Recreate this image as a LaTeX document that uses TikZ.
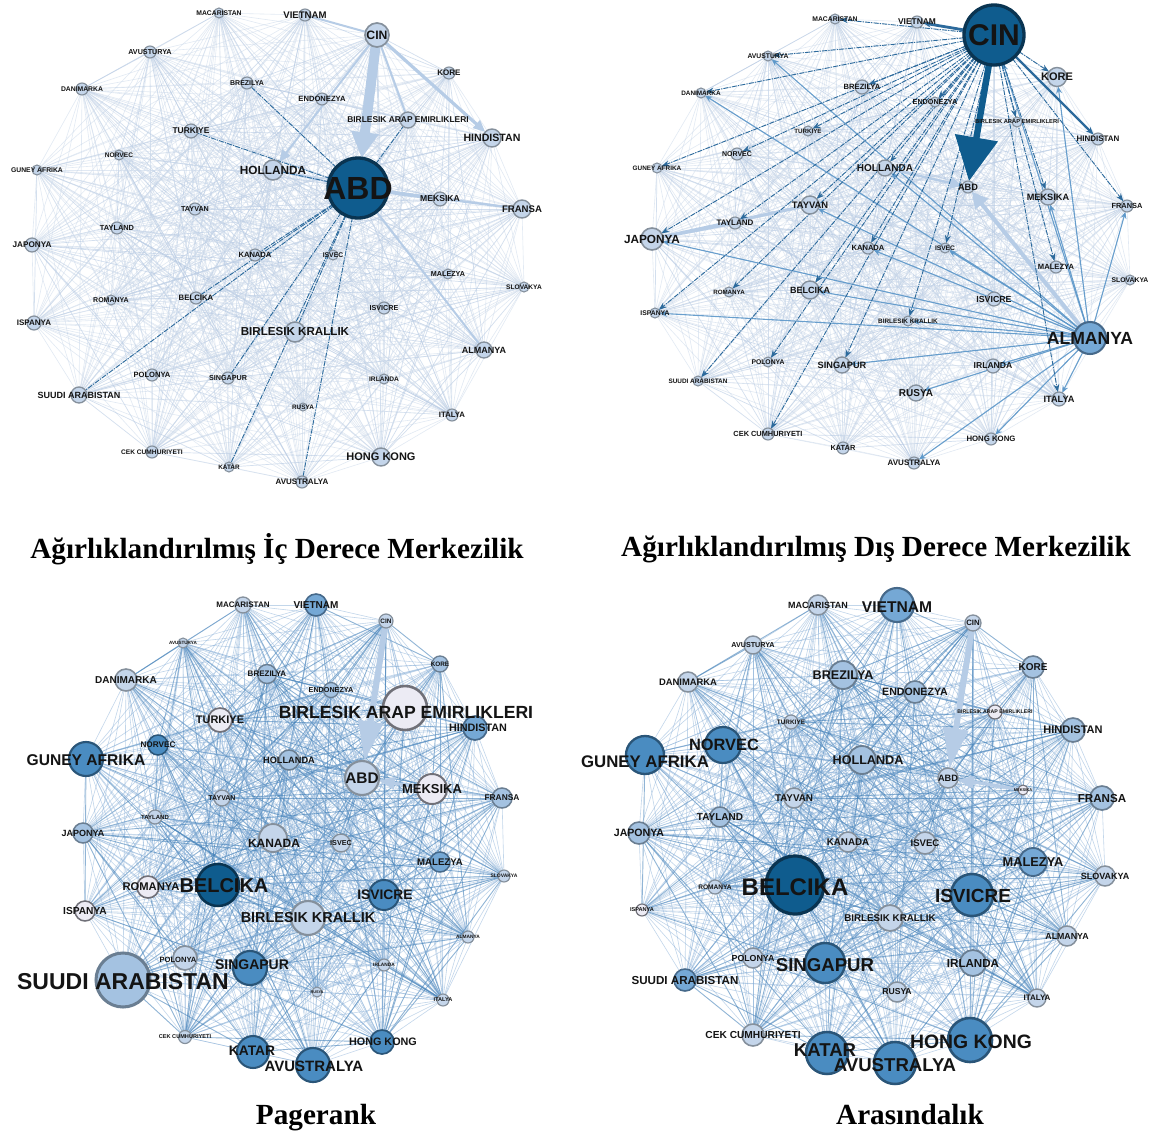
\documentclass[tikz,border=0pt]{standalone}
\usepackage{fontspec}
\setmainfont{Liberation Serif}
\setsansfont{Liberation Sans}
\usetikzlibrary{arrows.meta,backgrounds}
\definecolor{f0}{HTML}{ECEBF4}\definecolor{b0}{HTML}{707078}
\definecolor{f1}{HTML}{C4D5EA}\definecolor{b1}{HTML}{85909C}
\definecolor{f2}{HTML}{A4C2E1}\definecolor{b2}{HTML}{6A7E92}
\definecolor{f3}{HTML}{75A8D5}\definecolor{b3}{HTML}{46698A}
\definecolor{f4}{HTML}{4A8CC1}\definecolor{b4}{HTML}{2A5578}
\definecolor{f5}{HTML}{0F5C8E}\definecolor{b5}{HTML}{0A3451}
\definecolor{meshA}{HTML}{CAD8EA}
\definecolor{meshAd}{HTML}{B7CAE3}
\definecolor{meshB}{HTML}{86AED7}
\definecolor{meshBd}{HTML}{4683BA}
\definecolor{bandc}{HTML}{B6CCE6}
\definecolor{dkc}{HTML}{2C6A9C}
\definecolor{alc}{HTML}{5C97C9}
\tikzset{
  ctry/.style={circle, inner sep=0pt, outer sep=0pt},
  lbl/.style={inner sep=0pt, text=black!92},
  captxt/.style={font=\fontsize{14.6}{17}\selectfont\bfseries, inner sep=0pt, anchor=base},
  meshlo/.style={draw=meshA, line width=0.3pt, draw opacity=0.55},
  meshlod/.style={draw=meshAd, line width=0.35pt, draw opacity=0.6},
  meshhi/.style={draw=meshB, line width=0.3pt, draw opacity=0.5},
  meshhid/.style={draw=meshBd, line width=0.45pt, draw opacity=0.6},
  bandedge/.style={draw=bandc, fill=bandc},
  dkline/.style={draw=dkc, line width=0.45pt, dash pattern=on 2.5pt off 0.6pt on 0.6pt off 0.6pt},
  dkarrow/.style={dkline, -{Stealth[length=4pt,width=3pt]}},
  alarrow/.style={draw=alc, line width=0.55pt, draw opacity=0.9, -{Stealth[length=3.5pt,width=3pt]}},
  x=0.5pt, y=-0.5pt
}
\def\keylist{mac,vie,cin,kor,avt,bre,end,dan,bae,hin,tur,nor,hol,gun,abd,mek,fra,tyv,tyl,jap,kan,isc,mal,slo,rom,bel,isv,isp,bk,alm,pol,sin,irl,sua,rus,ita,cek,kat,hk,avs}
\newcommand\mknodes[2]{%
  \foreach \k/\x/\y/\rr/\cl/\fs/\dx/\dy/\nm in {#2}{%
    \pgfmathsetmacro\lw{0.3+0.045*\rr}%
    \node[ctry, minimum size=\rr pt, fill=f\cl, draw=b\cl, line width=\lw pt] (#1-\k) at (\x,\y) {};
  }%
  \foreach \k/\x/\y/\rr/\cl/\fs/\dx/\dy/\nm in {#2}{%
    \node[lbl, font=\sffamily\bfseries\fontsize{\fs}{\fs}\selectfont] (#1-\k-t) at (\x+\dx,\y+\dy) {\nm};
  }%
}
\newcommand\mkmesh[3]{%
  \foreach \a [count=\i] in \keylist {%
    \foreach \b [count=\j] in \keylist {%
      \ifnum\j>\i
        \edef\hv{\the\numexpr \i*\j*\j + \i*\i + 5*\j\relax}%
        \ifnum\numexpr \hv - 7*((\hv-3)/7)\relax<1
          \draw[#3] (#1-\a) -- (#1-\b);
        \else
          \draw[#2] (#1-\a) -- (#1-\b);
        \fi
      \fi
    }%
  }%
}
\begin{document}
\begin{tikzpicture}
\useasboundingbox (0,0) rectangle (1151,1135);
% ---------------- panel 1
\mknodes{p1}{
mac/219/13/5/1/3.4/0/0/MACARISTAN,
vie/305/15/6/1/4.8/0/0/VIETNAM,
cin/377/35/12/1/6.1/0/0/CIN,
kor/449/73/6/1/4/0/0/KORE,
avt/150/52/6/1/3.6/0/0/AVUSTURYA,
bre/247/83/6/1/3.5/0/0/BREZILYA,
end/322/99/6/1/3.8/0/0/ENDONEZYA,
dan/82/89/6/1/3.4/0/0/DANIMARKA,
bae/408/120/8/1/4.2/0/0/BIRLESIK ARAP EMIRLIKLERI,
hin/492/138/9/1/5.3/0/0/HINDISTAN,
tur/191/131/7/1/4.2/0/0/TURKIYE,
nor/119/155/5/1/3.3/0/0/NORVEC,
hol/273/170/10/1/5.9/0/0/HOLLANDA,
gun/37/170/5/1/3.4/0/0/GUNEY AFRIKA,
abd/358/188/30/5/16/0/0/ABD,
mek/440/199/7/1/4.3/0/0/MEKSIKA,
fra/522/209/9/1/4.8/0/0/FRANSA,
tyv/195/209/6/1/3.6/0/0/TAYVAN,
tyl/117/228/6/1/3.7/0/0/TAYLAND,
jap/32/245/7/1/4.1/0/0/JAPONYA,
kan/255/255/6/1/3.8/0/0/KANADA,
isc/333/255/5/1/3.4/0/0/ISVEC,
mal/448/274/5/1/3.6/0/0/MALEZYA,
slo/524/287/5/1/3.3/0/0/SLOVAKYA,
rom/111/300/5/1/3.5/0/0/ROMANYA,
bel/196/298/6/1/3.9/0/0/BELCIKA,
isv/384/308/6/1/3.6/0/0/ISVICRE,
isp/34/323/7/1/4/0/0/ISPANYA,
bk/295/332/10/1/5.8/0/0/BIRLESIK KRALLIK,
alm/484/350/8/1/4.5/0/0/ALMANYA,
pol/152/375/6/1/3.8/0/0/POLONYA,
sin/228/378/6/1/3.6/0/0/SINGAPUR,
irl/384/379/5/1/3.3/0/0/IRLANDA,
sua/79/395/8/1/4.5/0/0/SUUDI ARABISTAN,
rus/303/407/4/1/3.2/0/0/RUSYA,
ita/452/415/6/1/3.9/0/0/ITALYA,
cek/152/452/6/1/3.3/0/0/CEK CUMHURIYETI,
kat/229/467/5/1/3.2/0/0/KATAR,
hk/381/457/9/1/5.5/0/0/HONG KONG,
avs/302/482/6/1/4/0/0/AVUSTRALYA}
% ---------------- panel 2
\mknodes{p2}{
mac/835/19/5/1/3.4/0/0/MACARISTAN,
vie/917/22/6/1/4.2/0/0/VIETNAM,
cin/994/35/30/5/15/0/0/CIN,
kor/1057/77/9.5/1/5.5/0/0/KORE,
avt/768/56/5/1/3.4/0/0/AVUSTURYA,
bre/862/87/7/1/3.8/0/0/BREZILYA,
end/935/102/5/1/3.6/0/0/ENDONEZYA,
dan/701/93/5/1/3.2/0/0/DANIMARKA,
bae/1017/122/5/1/2.9/0/0/BIRLESIK ARAP EMIRLIKLERI,
hin/1098/139/6/1/4/0/0/HINDISTAN,
tur/808/131/5/1/3.1/0/0/TURKIYE,
nor/737/154/6/1/3.5/0/0/NORVEC,
hol/885/168/8/1/5/0/0/HOLLANDA,
gun/657/168/5/1/3.2/0/0/GUNEY AFRIKA,
abd/968/187/6/1/4.6/0/0/ABD,
mek/1048/197/8/1/4.6/0/0/MEKSIKA,
fra/1127/206/6/1/3.7/0/0/FRANSA,
tyv/810/205/9/1/4.7/0/0/TAYVAN,
tyl/735/223/6/1/4/0/0/TAYLAND,
jap/652/239/11/1/5.9/0/0/JAPONYA,
kan/868/248/6/1/3.8/0/0/KANADA,
isc/945/248/5/1/3.3/0/0/ISVEC,
mal/1056/267/6/1/3.8/0/0/MALEZYA,
slo/1130/280/5/1/3.4/0/0/SLOVAKYA,
rom/729/292/5/1/3.1/0/0/ROMANYA,
bel/810/290/9/1/4.5/0/0/BELCIKA,
isv/994/299/7/1/4.4/0/0/ISVICRE,
isp/655/313/5/1/3.4/0/0/ISPANYA,
bk/908/321/5/1/3.2/0/0/BIRLESIK KRALLIK,
alm/1090/338/16/3/8.8/0/0/ALMANYA,
pol/768/362/5/1/3.4/0/0/POLONYA,
sin/842/365/8/1/4.6/0/0/SINGAPUR,
irl/993/366/7/1/4.3/0/0/IRLANDA,
sua/698/381/5/1/3.2/0/0/SUUDI ARABISTAN,
rus/916/393/8/1/5/0/0/RUSYA,
ita/1059/399/7/1/4.6/0/0/ITALYA,
cek/768/434/6/1/3.7/0/0/CEK CUMHURIYETI,
kat/843/448/6/1/3.7/0/0/KATAR,
hk/991/439/6/1/3.9/0/0/HONG KONG,
avs/914/463/6/1/4/0/0/AVUSTRALYA}
% ---------------- panel 3
\mknodes{p3}{
mac/243/605/8/1/4/0/0/MACARISTAN,
vie/316/605/11/3/5/0/0/VIETNAM,
cin/386/621/7/1/3.2/0/0/CIN,
kor/440/664/8/2/3.2/0/0/KORE,
avt/183/643/5/1/2.3/0/0/AVUSTURYA,
bre/267/674/9.5/2/4/0/0/BREZILYA,
end/331/690/7.5/2/3.6/0/0/ENDONEZYA,
dan/126/680/11/1/5/0/0/DANIMARKA,
bae/405/708/22/0/8.8/1/4/BIRLESIK ARAP EMIRLIKLERI,
hin/475/728/12/3/5.4/3/0/HINDISTAN,
tur/220/720/12/0/5.5/0/0/TURKIYE,
nor/158/745/10/4/4.1/0/0/NORVEC,
hol/289/760/10/2/4.6/0/0/HOLLANDA,
gun/86/759/17/4/7.8/0/1/GUNEY AFRIKA,
abd/362/778/17/1/7.7/0/0/ABD,
mek/432/789/15/0/6.5/0/0/MEKSIKA,
fra/502/798/10/2/4.2/0/0/FRANSA,
tyv/222/798/8/1/3.5/0/0/TAYVAN,
tyl/155/817/7/1/3/0/0/TAYLAND,
jap/83/833/10/2/4.5/0/0/JAPONYA,
kan/273/838/14/1/6/1/5/KANADA,
isc/341/843/9/1/3.6/0/0/ISVEC,
mal/440/862/10/3/4.8/0/0/MALEZYA,
slo/504/876/6/1/2.5/0/0/SLOVAKYA,
rom/148/887/11/0/5.6/3/0/ROMANYA,
bel/218/885/21/5/10/6/1/BELCIKA,
isv/384/895/15/4/6.9/1/0/ISVICRE,
isp/85/911/10/0/5.1/0/0/ISPANYA,
bk/308/918/17/1/7.2/0/0/BIRLESIK KRALLIK,
alm/468/937/6/1/2.4/0/0/ALMANYA,
pol/185/958/12/1/3.8/-7/2/POLONYA,
sin/250/968/17/4/7/2/-3/SINGAPUR,
irl/384/965/6/1/2.4/0/0/IRLANDA,
sua/123/980/27/2/11.5/0/2/SUUDI ARABISTAN,
rus/317/992/5/1/1.9/0/0/RUSYA,
ita/443/1000/6/1/2.8/0/0/ITALYA,
cek/185/1037/6.5/1/2.8/0/0/CEK CUMHURIYETI,
kat/253/1052/16/4/6.9/-1/-1/KATAR,
hk/382/1042/12/4/5.4/1/0/HONG KONG,
avs/313/1065/17/4/7.5/1/1/AVUSTRALYA}
% ---------------- panel 4
\mknodes{p4}{
mac/818/605/10/1/4.5/0/0/MACARISTAN,
vie/897/605/17/3/7.8/0/2/VIETNAM,
cin/973/623/8/1/3.9/0/0/CIN,
kor/1033/667/11/2/5/0/0/KORE,
avt/753/645/9/1/3.6/0/0/AVUSTURYA,
bre/843/675/14/2/6.3/0/0/BREZILYA,
end/915/692/11/2/5.3/0/0/ENDONEZYA,
dan/688/682/10/1/4.7/0/0/DANIMARKA,
bae/995/712/7/0/2.6/0/0/BIRLESIK ARAP EMIRLIKLERI,
hin/1073/730/12/2/5.5/0/0/HINDISTAN,
tur/791/722/7/1/3.2/0/0/TURKIYE,
nor/723/745/18/4/8.2/1/0/NORVEC,
hol/862/760/14/2/6.3/6/0/HOLLANDA,
gun/645/755/19/4/8.4/0/7/GUNEY AFRIKA,
abd/948/778/10/1/4.6/0/0/ABD,
mek/1023/790/5/0/2/0/0/MEKSIKA,
fra/1102/798/12/2/5.8/0/0/FRANSA,
tyv/794/798/10/1/4.9/0/0/TAYVAN,
tyl/720/817/10/2/5/0/0/TAYLAND,
jap/639/833/11/2/5.3/0/0/JAPONYA,
kan/848/842/10/1/4.9/0/0/KANADA,
isc/925/843/11/1/4.8/0/0/ISVEC,
mal/1033/862/14/3/6.4/0/0/MALEZYA,
slo/1105/876/10/1/4.5/0/0/SLOVAKYA,
rom/715/887/7/1/3.3/0/0/ROMANYA,
bel/795/885/29/5/12/0/2/BELCIKA,
isv/972/895/21/4/9.5/1/1/ISVICRE,
isp/642/910/6/0/2.8/0/0/ISPANYA,
bk/890/918/13/1/4.9/0/0/BIRLESIK KRALLIK,
alm/1067/936/10/1/4.4/0/0/ALMANYA,
pol/753/958/10/1/4.4/0/0/POLONYA,
sin/825/963/20/4/9.3/0/2/SINGAPUR,
irl/973/963/13/2/5.8/0/0/IRLANDA,
sua/685/980/11/3/5.8/0/0/SUUDI ARABISTAN,
rus/897/992/10/1/4.3/0/0/RUSYA,
ita/1037/998/9/1/4/0/0/ITALYA,
cek/753/1035/11/1/5.1/0/0/CEK CUMHURIYETI,
kat/827/1053/21/4/9.3/-2/-3/KATAR,
hk/970/1040/22/4/9.7/1/2/HONG KONG,
avs/895/1063/21/4/9.3/0/2/AVUSTRALYA}
% ---------------- captions
\node[captxt] (cap1) at (277,558) {Ağırlıklandırılmış İç Derece Merkezilik};
\node[captxt] (cap2) at (876,556) {Ağırlıklandırılmış Dış Derece Merkezilik};
\node[captxt] (cap3) at (316,1124) {Pagerank};
\node[captxt] (cap4) at (910,1124) {Arasındalık};
% ---------------- edges
\begin{pgfonlayer}{background}
\fill[white] (0,0) rectangle (1151,1135);
\mkmesh{p1}{meshlo}{meshlod}
\mkmesh{p2}{meshlo}{meshlod}
\mkmesh{p3}{meshhi}{meshhid}
\mkmesh{p4}{meshhi}{meshhid}
% panel 1 specials
\draw[bandedge, line width=5pt, -{Triangle[width=13pt,length=13pt]}] (p1-cin) -- (p1-abd);
\draw[bandedge, line width=1.6pt, -{Triangle[width=5pt,length=6pt]}] (p1-cin) -- (p1-hin);
\draw[bandedge, line width=1pt] (p1-cin) -- (p1-bae);
\draw[bandedge, line width=1pt] (p1-cin) -- (p1-vie);
\draw[bandedge, line width=1pt, -{Triangle[width=5pt,length=6pt]}] (p1-cin) -- (p1-hol);
\draw[bandedge, line width=1.8pt] (p1-abd) -- (p1-mek);
\draw[bandedge, line width=1.2pt] (p1-abd) -- (p1-fra);
\draw[bandedge, line width=1pt] (p1-abd) -- (p1-hol);
\draw[bandedge, line width=1pt] (p1-abd) -- (p1-alm);
\foreach \t in {sua,avs,kat,sin,bel,kan,bk,bae,bre,hol,tur} \draw[dkline] (p1-abd) -- (p1-\t);
% panel 2 specials
\draw[bandedge, line width=1.5pt] (p2-jap) -- (p2-tyl);
\draw[bandedge, line width=1.5pt] (p2-jap) -- (p2-tyv);
\foreach \t in {fra,kor,cin,hol,avt,isp,bk,rus,avs,sin,ita,mek,bel,jap,tyv,kan,hk,isc,dan,irl} \draw[alarrow] (p2-alm) -- (p2-\t);
\draw[bandedge, line width=2pt, -{Triangle[width=8pt,length=8pt]}] (p2-alm) -- (p2-abd);
\draw[bandedge, line width=1.2pt, -{Triangle[width=6pt,length=6pt]}] (p2-hol) -- (p2-abd);
\foreach \t in {mac,dan,bre,tur,gun,jap,tyl,isp,hol,kan,pol,cek,bel,bk,isc,sua,rom,end,bae,mek,mal,ita,fra,kor,avt,nor,tyv,sin} \draw[dkarrow] (p2-cin) -- (p2-\t);
\draw[dkarrow, solid, line width=1.4pt] (p2-cin) -- (p2-vie);
\draw[dkarrow, solid, line width=1.2pt] (p2-cin) -- (p2-hin);
\draw[draw=f5, line width=3.2pt, -{Triangle[width=21pt,length=22pt]}] (p2-cin) -- (p2-abd);
% panel 3 specials
\draw[bandedge, line width=3pt, -{Triangle[width=12pt,length=20pt]}] (p3-cin) -- (p3-abd);
\draw[bandedge, line width=1.5pt, -{Triangle[width=6pt,length=8pt]}] (p3-mek) -- (p3-abd);
% panel 4 specials
\draw[bandedge, line width=3pt, -{Triangle[width=12pt,length=20pt]}] (p4-cin) -- (p4-abd);
\draw[bandedge, line width=1.5pt, -{Triangle[width=6pt,length=8pt]}] (p4-mek) -- (p4-abd);
\end{pgfonlayer}
\end{tikzpicture}
\end{document}
